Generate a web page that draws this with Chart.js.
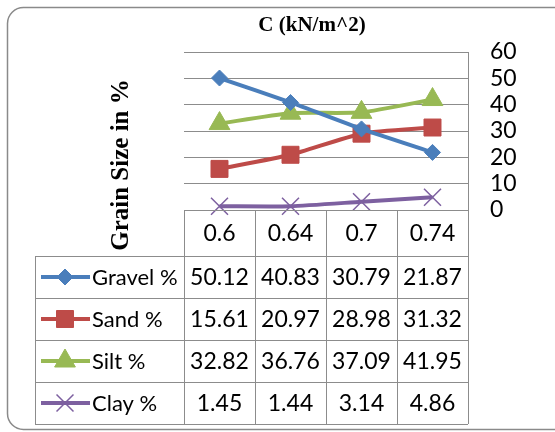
<!DOCTYPE html>
<html>
<head>
<meta charset="utf-8">
<script src="https://cdn.jsdelivr.net/npm/chart.js@4"></script>
<style>
  html, body { margin: 0; padding: 0; background: #fff; }
  canvas { display: block; }
</style>
</head>
<body>
<canvas id="grainChart" width="555" height="432"></canvas>
<script>
const categories = ['0.6', '0.64', '0.7', '0.74'];
const gravel = [50.12, 40.83, 30.79, 21.87];
const sand = [15.61, 20.97, 28.98, 31.32];
const silt = [32.82, 36.76, 37.09, 41.95];
const clay = [1.45, 1.44, 3.14, 4.86];
const seriesNames = ['Gravel %', 'Sand %', 'Silt %', 'Clay %'];
const yMin = 0, yMax = 60, yStep = 10;

const sansFamily = 'Lato, "Noto Sans", sans-serif';
const tableFont = '23px ' + sansFamily;
const legendFont = '22px ' + sansFamily;
const gridGrey = '#8c8c8c';

function makeSet(label, data, color, style, radius) {
    return {
        label: label,
        data: data,
        borderColor: color,
        backgroundColor: color,
        pointBackgroundColor: color,
        pointBorderColor: color,
        pointStyle: style,
        pointRadius: radius,
        pointHoverRadius: radius,
        pointBorderWidth: style === 'crossRot' ? 1.5 : 1,
        borderWidth: 4,
        tension: 0.2,
        clip: false
    };
}

// draws the frame, titles and the data table under the plot
const tablePlugin = {
    id: 'dataTable',
    beforeDraw(chart) {
        const ctx = chart.ctx;
        ctx.save();
        ctx.strokeStyle = '#8a8a8a';
        ctx.lineWidth = 1.5;
        ctx.beginPath();
        ctx.roundRect(7.5, 7.5, 570, 422, 16);
        ctx.stroke();
        ctx.restore();
    },
    afterDraw(chart) {
        const ctx = chart.ctx;
        const x = chart.scales.x;
        const area = chart.chartArea;
        const colW = x.width / categories.length;
        const headTop = area.bottom, headBottom = area.bottom + 46;
        const rowH = 42;
        const legLeft = 35;
        const tableBottom = headBottom + rowH * seriesNames.length;

        ctx.save();
        ctx.strokeStyle = gridGrey;
        ctx.lineWidth = 1;

        // header row and body lines
        ctx.beginPath();
        ctx.moveTo(area.left, headTop + 0.5);
        ctx.lineTo(area.right, headTop + 0.5);
        for (let r = 0; r <= seriesNames.length; r++) {
            const yy = Math.round(headBottom + r * rowH) + 0.5;
            ctx.moveTo(legLeft, yy);
            ctx.lineTo(area.right, yy);
        }
        for (let c = 0; c <= categories.length; c++) {
            const xx = Math.round(area.left + c * colW) + 0.5;
            ctx.moveTo(xx, headTop);
            ctx.lineTo(xx, tableBottom);
        }
        ctx.moveTo(legLeft + 0.5, headBottom);
        ctx.lineTo(legLeft + 0.5, tableBottom);
        ctx.stroke();

        ctx.fillStyle = '#000';
        ctx.textBaseline = 'middle';
        ctx.textAlign = 'center';
        ctx.font = tableFont;
        categories.forEach((c, i) => {
            ctx.fillText(c, x.getPixelForValue(i), (headTop + headBottom) / 2 + 1);
        });

        chart.data.datasets.forEach((ds, r) => {
            const cy = headBottom + r * rowH + rowH / 2 + 1;
            ctx.textAlign = 'center';
            ctx.font = tableFont;
            ds.data.forEach((v, i) => {
                ctx.fillText(v.toFixed(2), x.getPixelForValue(i), cy);
            });
            // legend key
            ctx.strokeStyle = ds.borderColor;
            ctx.lineWidth = 4;
            ctx.beginPath();
            ctx.moveTo(41, cy - 1);
            ctx.lineTo(90, cy - 1);
            ctx.stroke();
            ctx.fillStyle = ds.backgroundColor;
            ctx.lineWidth = ds.pointBorderWidth;
            Chart.helpers.drawPoint(ctx, {
                pointStyle: ds.pointStyle,
                radius: ds.pointRadius,
                rotation: 0,
                borderWidth: ds.pointBorderWidth
            }, 65, cy - 1);
            ctx.fillStyle = '#000';
            ctx.textAlign = 'left';
            ctx.font = legendFont;
            ctx.fillText(ds.label, 92, cy);
        });

        // chart title
        ctx.font = 'bold 21px "Liberation Serif", serif';
        ctx.textAlign = 'center';
        ctx.fillText('C (kN/m^2)', 312, 26);

        // axis title on the left
        ctx.translate(122, 165);
        ctx.rotate(-Math.PI / 2);
        ctx.font = 'bold 25px "Liberation Serif", serif';
        ctx.fillText('Grain Size in %', 0, 0);
        ctx.restore();
    }
};

new Chart(document.getElementById('grainChart'), {
    type: 'line',
    data: {
        labels: categories,
        datasets: [
            makeSet(seriesNames[0], gravel, '#4a7ebb', 'rectRot', 8),
            makeSet(seriesNames[1], sand, '#be4b48', 'rect', 12),
            makeSet(seriesNames[2], silt, '#98b954', 'triangle', 12),
            makeSet(seriesNames[3], clay, '#7d60a0', 'crossRot', 12)
        ]
    },
    options: {
        responsive: false,
        animation: false,
        devicePixelRatio: 1,
        layout: {
            padding: { left: 184, top: 52, right: 0, bottom: 222 }
        },
        plugins: {
            legend: { display: false },
            title: { display: false },
            tooltip: { enabled: false }
        },
        scales: {
            x: {
                type: 'category',
                display: false,
                offset: true
            },
            y: {
                position: 'right',
                min: yMin,
                max: yMax,
                ticks: {
                    stepSize: yStep,
                    autoSkip: false,
                    color: '#000',
                    padding: 22,
                    font: { family: sansFamily, size: 23 }
                },
                grid: {
                    color: gridGrey,
                    drawTicks: false
                },
                border: { display: true, color: gridGrey },
                afterFit(scale) { scale.width = 87; }
            }
        }
    },
    plugins: [tablePlugin]
});
</script>
</body>
</html>
